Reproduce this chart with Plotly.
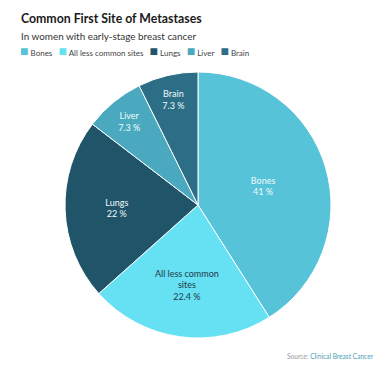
import plotly.graph_objects as go

labels = ["Bones", "All less common sites", "Lungs", "Liver", "Brain"]
display_names = ["Bones", "All less common<br>sites", "Lungs", "Liver", "Brain"]
values = [41, 22.4, 22, 7.3, 7.3]
colors = ["#56C3D8", "#66E1F4", "#1F5469", "#4AA9BF", "#2C6E85"]
text_colors = ["#F2FBFD", "#1E3A46", "#F2FBFD", "#F2FBFD", "#F2FBFD"]

FONT = "Lato"
# page body has an 8px margin; size the figure so it fits the 389x367 window
OFF = 8
W, H = 389 - OFF, 367 - OFF


def px(x):
    return (x - OFF) / W


def py(y):
    return 1 - (y - OFF) / H


cx, cy, r = 198, 205, 133

fig = go.Figure(go.Pie(
    labels=labels,
    values=values,
    customdata=display_names,
    texttemplate="%{customdata}<br>%{value} %",
    textposition="inside",
    insidetextorientation="horizontal",
    textfont=dict(family=FONT, size=9, color=text_colors),
    marker=dict(colors=colors, line=dict(color="white", width=1)),
    sort=False,
    direction="clockwise",
    rotation=0,
    hoverinfo="label+value",
    showlegend=False,
    domain=dict(x=[px(cx - r), px(cx + r)], y=[py(cy + r), py(cy - r)]),
))

legend_parts = [
    f"<span style='color:{c};font-size:14px'>■</span>&nbsp;{lab}"
    for lab, c in zip(labels, colors)
]
legend_text = "&nbsp;&nbsp;&nbsp;".join(legend_parts)

fig.update_layout(
    width=W, height=H,
    margin=dict(l=0, r=0, t=0, b=0),
    paper_bgcolor="white",
    plot_bgcolor="white",
    font=dict(family=FONT),
    showlegend=False,
)

fig.add_annotation(text="<b>Common First Site of Metastases</b>",
                   x=px(19), y=py(18), xref="paper", yref="paper",
                   xanchor="left", yanchor="middle", showarrow=False,
                   font=dict(family=FONT, size=12.3, color="#1a1a1a"))
fig.add_annotation(text="In women with early-stage breast cancer",
                   x=px(19), y=py(36), xref="paper", yref="paper",
                   xanchor="left", yanchor="middle", showarrow=False,
                   font=dict(family=FONT, size=9.9, color="#333"))
fig.add_annotation(text=legend_text,
                   x=px(18), y=py(51), xref="paper", yref="paper",
                   xanchor="left", yanchor="middle", showarrow=False,
                   font=dict(family=FONT, size=8, color="#444"))
fig.add_annotation(text="<span style='color:#9a9a9a'>Source: </span><span style='color:#4A9FB5'>Clinical Breast Cancer</span>",
                   x=px(376), y=py(356), xref="paper", yref="paper",
                   xanchor="right", yanchor="middle", showarrow=False,
                   font=dict(family=FONT, size=6.6))

fig.write_html("out.html")
